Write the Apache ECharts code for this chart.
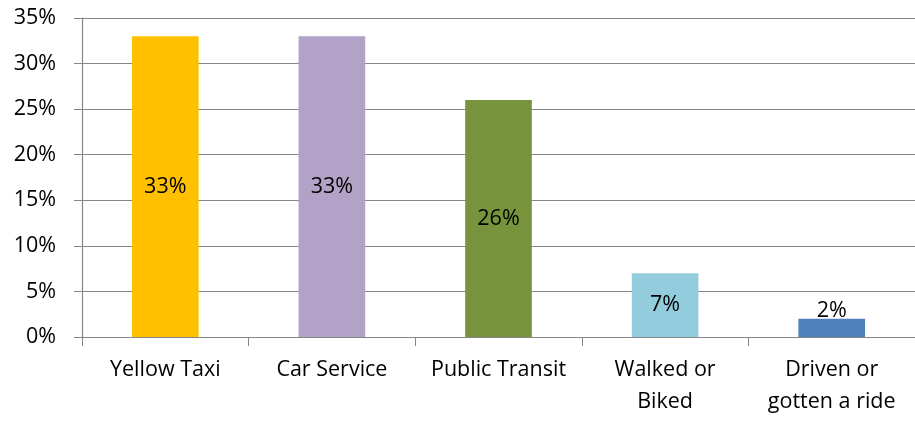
<!DOCTYPE html>
<html>
<head>
<meta charset="utf-8">
<script src="https://cdn.jsdelivr.net/npm/echarts@6/dist/echarts.min.js"></script>
<style>
  html, body { margin: 0; padding: 0; background: #fff; }
  #chart { width: 915px; height: 422px; }
</style>
</head>
<body>
<div id="chart"></div>
<script>
// 数据
const categories = ["Yellow Taxi", "Car Service", "Public Transit", "Walked or\nBiked", "Driven or\ngotten a ride"]
const shares = [33, 33, 26, 7, 2]
const yTicks = [0, 5, 10, 15, 20, 25, 30, 35]

// 柱子颜色
const barColors = ["#FFC000", "#B3A2C7", "#77933C", "#93CDDD", "#4F81BD"]
const gridColor = "#868686"
const fontFamily = "'Open Sans', sans-serif"
const fontSize = 21.5

const myChart = echarts.init(document.getElementById("chart"))

// 每根柱子单独配色，太矮的柱子标签放在上方
const barData = shares.map((v, i) => ({
  value: v,
  itemStyle: { color: barColors[i] },
  label: v < 5 ? { position: "top", distance: -3 } : { position: "inside" },
}))

const option = {
  animation: false,
  grid: {
    left: 82,
    right: -9,
    top: 18,
    bottom: 85,
  },
  xAxis: {
    type: "category",
    data: categories,
    axisTick: {
      show: true,
      length: 9,
      lineStyle: { color: gridColor },
    },
    axisLine: {
      lineStyle: { color: gridColor, width: 1.2 },
    },
    axisLabel: {
      color: "#000",
      fontSize: fontSize,
      fontFamily: fontFamily,
      lineHeight: 32,
      margin: 17,
      interval: 0,
    },
  },
  yAxis: {
    type: "value",
    min: yTicks[0],
    max: yTicks[yTicks.length - 1],
    interval: yTicks[1] - yTicks[0],
    axisLine: {
      show: true,
      lineStyle: { color: gridColor, width: 1.2 },
    },
    axisTick: {
      show: true,
      inside: false,
      length: 8,
      lineStyle: { color: gridColor },
    },
    splitLine: {
      lineStyle: { color: gridColor, width: 1.2 },
    },
    axisLabel: {
      color: "#000",
      fontSize: fontSize,
      fontFamily: fontFamily,
      margin: 26,
      formatter: "{value}%",
    },
  },
  series: [
    {
      type: "bar",
      barWidth: "40%",
      data: barData,
      label: {
        show: true,
        color: "#000",
        fontSize: fontSize,
        fontFamily: fontFamily,
        formatter: "{c}%",
      },
    },
  ],
}

myChart.setOption(option)
</script>
</body>
</html>
